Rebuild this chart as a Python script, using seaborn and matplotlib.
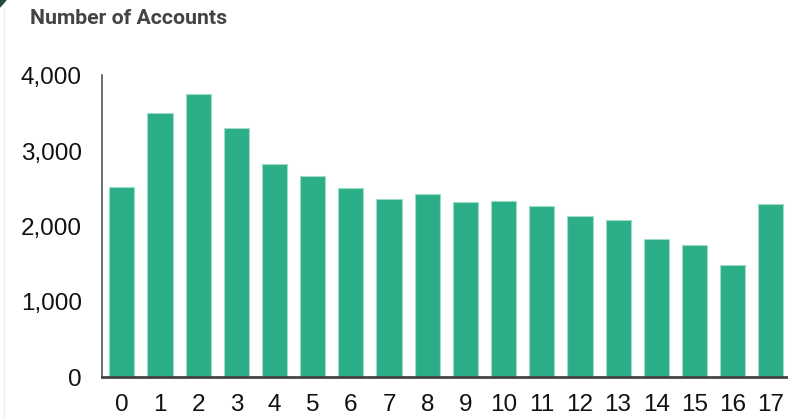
import matplotlib
matplotlib.use("Agg")
import matplotlib.pyplot as plt
import seaborn as sns
import pandas as pd

# data
tenure = [str(i) for i in range(18)]
accounts = [2525, 3508, 3761, 3309, 2831, 2671, 2512, 2365, 2432,
            2326, 2339, 2272, 2140, 2086, 1834, 1754, 1488, 2299]
yticks = [0, 1000, 2000, 3000, 4000]

df = pd.DataFrame({"tenure": tenure, "accounts": accounts})

sns.set_style("white")
plt.rcParams['font.family'] = ['Liberation Sans', 'DejaVu Sans']

fig = plt.figure(figsize=(7.88, 4.19), dpi=100)
ax = fig.add_axes([102/788, 1 - 377/419, 1 - 102/788, (377 - 75)/419])

sns.barplot(data=df, x="tenure", y="accounts", color="#2BAE87", saturation=1,
            width=0.66, edgecolor="#9fdcc6", linewidth=0.8, ax=ax)

ax.set_xlim(-0.52, 17.45)
ax.set_ylim(0, 4010)
ax.set_yticks(yticks)
ax.set_yticklabels([f"{v:,}" for v in yticks])
ax.set_xlabel("")
ax.set_ylabel("")
ax.tick_params(axis='y', length=0, pad=14.5, labelsize=17.5, labelcolor="#111111")
ax.tick_params(axis='x', length=0, pad=12.5, labelsize=17.5, labelcolor="#111111")

for s in ["top", "right"]:
    ax.spines[s].set_visible(False)
ax.spines["left"].set_color("#555555")
ax.spines["left"].set_linewidth(1.2)
ax.spines["bottom"].set_color("#444444")
ax.spines["bottom"].set_linewidth(2)

fig.text(30/788, 1 - 19/419, "Number of Accounts", fontsize=15.3, fontweight='bold',
         color="#444444", va='center', ha='left', family=['Roboto', 'DejaVu Sans'])

# little dark green corner mark and faint page edge
fig.patches.append(plt.Polygon([[0, 1], [6/788, 1], [0, 1 - 7/419]], closed=True,
                               transform=fig.transFigure, color="#1f4d36"))
fig.add_artist(plt.Line2D([4/788, 4/788], [0, 1 - 8/419], transform=fig.transFigure,
                          color="#f0f0f0", linewidth=1))

fig.savefig("out.png", dpi=100)
